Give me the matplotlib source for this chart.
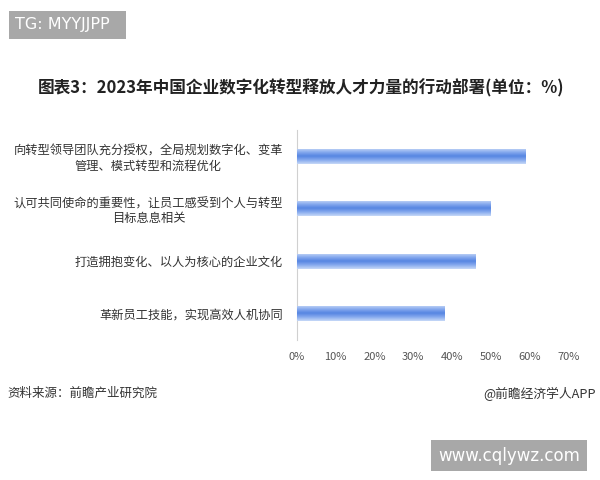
import numpy as np
import matplotlib
matplotlib.use('Agg')
import matplotlib.pyplot as plt
from matplotlib.colors import LinearSegmentedColormap

plt.rcParams['font.family'] = ['Noto Sans CJK SC', 'DejaVu Sans']

# data
categories = [
    '向转型领导团队充分授权，全局规划数字化、变革\n管理、模式转型和流程优化',
    '认可共同使命的重要性，让员工感受到个人与转型\n目标息息相关',
    '打造拥抱变化、以人为核心的企业文化',
    '革新员工技能，实现高效人机协同',
]
values = [59, 50, 46, 38]
x_ticks = [0, 10, 20, 30, 40, 50, 60, 70]
tick_labels = ['0%', '10%', '20%', '30%', '40%', '50%', '60%', '70%']

title = '图表3：2023年中国企业数字化转型释放人才力量的行动部署(单位：%)'
source = '资料来源：前瞻产业研究院'
brand = '@前瞻经济学人APP'

fig = plt.figure(figsize=(6, 4.8), dpi=100)
ax = fig.add_axes([0.495, 0.292, 0.452, 0.437])

# bars with a light-dark-light vertical gradient
bar_h = 0.29
y = np.arange(len(categories))
bars = ax.barh(y, values, height=bar_h, color='#6f98e8', edgecolor='none')
cmap = LinearSegmentedColormap.from_list('bar', ['#c6d8f7', '#86a9ee', '#5585e2', '#86a9ee', '#c6d8f7'])
grad = np.linspace(0, 1, 64).reshape(-1, 1)
for b in bars:
    im = ax.imshow(grad, cmap=cmap, aspect='auto', interpolation='bilinear',
                   extent=[b.get_x(), b.get_x() + b.get_width(),
                           b.get_y() + b.get_height(), b.get_y()], zorder=3)
    im.set_clip_path(b)

ax.set_xlim(0, 70)
ax.set_ylim(len(categories) - 0.5, -0.5)
ax.set_yticks(y)
ax.set_yticklabels(categories, fontsize=8.8, color='#333333')
for lab in ax.get_yticklabels():
    lab.set_multialignment('center')
ax.set_xticks(x_ticks)
ax.set_xticklabels(tick_labels, fontsize=8, color='#555555')
ax.tick_params(axis='both', length=0)
ax.tick_params(axis='y', pad=10)
ax.tick_params(axis='x', pad=9)

for s in ['top', 'right', 'bottom']:
    ax.spines[s].set_visible(False)
ax.spines['left'].set_color('#d0d0d0')

fig.text(0.501, 0.817, title, ha='center', va='center', fontsize=12,
         fontweight='bold', color='#222222')
fig.text(0.012, 0.18, source, ha='left', va='center', fontsize=9, color='#333333')
fig.text(0.993, 0.18, brand, ha='right', va='center', fontsize=9.2, color='#333333')

# gray stamp boxes
fig.text(0.025, 0.948, 'TG: MYYJJPP  ', ha='left', va='center', fontsize=11.5,
         color='white', family='DejaVu Sans',
         bbox=dict(boxstyle='square,pad=0.4', fc='#a8a8a8', ec='none'))
fig.text(0.73, 0.051, 'www.cqlywz.com', ha='left', va='center', fontsize=12,
         color='white', family='DejaVu Sans',
         bbox=dict(boxstyle='square,pad=0.4', fc='#a8a8a8', ec='none'))

fig.savefig('out.png', dpi=100)
